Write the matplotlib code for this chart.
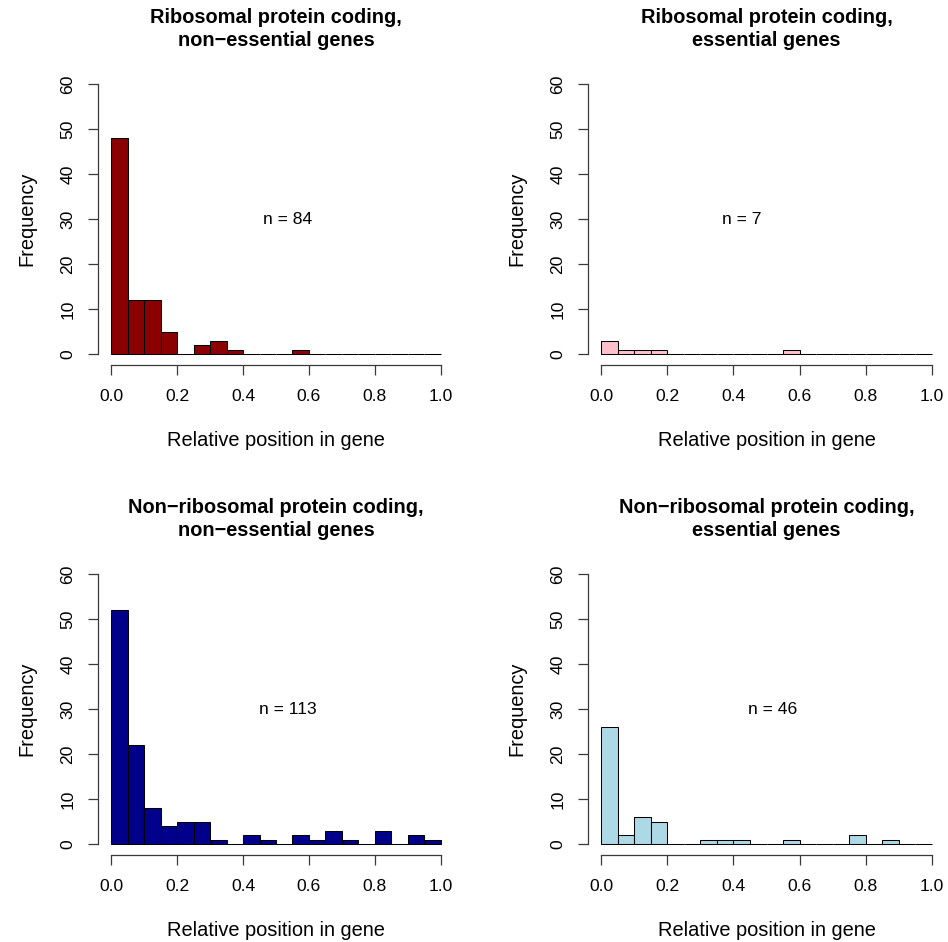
#!/usr/bin/env python
# -*- coding: utf-8 -*-

"""
Histograms of relative insertion position within genes, split by
ribosomal / non-ribosomal protein coding and essential / non-essential.
"""

import numpy as np

import matplotlib

matplotlib.use("Agg")
import matplotlib.pyplot as plt  # noqa: E402

plt.rcParams["font.family"] = ["Liberation Sans", "DejaVu Sans"]

# bin edges: 20 bins of width 0.05 over [0, 1]
BIN_EDGES = np.linspace(0.0, 1.0, 21)

# counts per bin
RIBO_NONESS = [48, 12, 12, 5, 0, 2, 3, 1, 0, 0, 0, 1, 0, 0, 0, 0, 0, 0, 0, 0]
RIBO_ESS = [3, 1, 1, 1, 0, 0, 0, 0, 0, 0, 0, 1, 0, 0, 0, 0, 0, 0, 0, 0]
NONRIBO_NONESS = [52, 22, 8, 4, 5, 5, 1, 0, 2, 1, 0, 2, 1, 3, 1, 0, 3, 0, 2, 1]
NONRIBO_ESS = [26, 2, 6, 5, 0, 0, 1, 1, 1, 0, 0, 1, 0, 0, 0, 2, 0, 1, 0, 0]

TITLES = [
    "Ribosomal protein coding,\nnon\u2212essential genes",
    "Ribosomal protein coding,\nessential genes",
    "Non\u2212ribosomal protein coding,\nnon\u2212essential genes",
    "Non\u2212ribosomal protein coding,\nessential genes",
]
COUNTS = [RIBO_NONESS, RIBO_ESS, NONRIBO_NONESS, NONRIBO_ESS]
FILLS = ["#8B0000", "#FFC0CB", "#00008B", "#ADD8E6"]
N_TEXT_X = [0.536, 0.424, 0.536, 0.518]

X_TICKS = [0.0, 0.2, 0.4, 0.6, 0.8, 1.0]
Y_TICKS = [0, 10, 20, 30, 40, 50, 60]

W, H = 948, 942
DPI = 100
AXIS_COL = "#3a3a3a"

# panel plot regions in pixels (left, top, right, bottom)
PANELS = [
    (98, 73, 454, 365),
    (588, 73, 945, 365),
    (98, 563, 454, 855),
    (588, 563, 945, 855),
]


def fx(px):
    return px / W


def fy(py):
    return 1.0 - py / H


def main():
    fig = plt.figure(figsize=(W / DPI, H / DPI), dpi=DPI)
    fig.patch.set_facecolor("white")

    widths = np.diff(BIN_EDGES)
    for i, (l, t, r, b) in enumerate(PANELS):
        ax = fig.add_axes([fx(l), fy(b), fx(r) - fx(l), fy(t) - fy(b)])
        counts = np.asarray(COUNTS[i])
        ax.bar(BIN_EDGES[:-1], counts, width=widths, align="edge",
               color=FILLS[i], edgecolor="black", linewidth=0.75)

        ax.set_xlim(-0.04, 1.04)
        ax.set_ylim(-2.4, 62.4)
        for side in ("top", "right"):
            ax.spines[side].set_visible(False)
        ax.spines["left"].set_bounds(0, 60)
        ax.spines["bottom"].set_bounds(0, 1)
        for side in ("left", "bottom"):
            ax.spines[side].set_color(AXIS_COL)
            ax.spines[side].set_linewidth(0.9)

        ax.set_xticks(X_TICKS)
        ax.set_xticklabels([f"{v:.1f}" for v in X_TICKS])
        ax.set_yticks(Y_TICKS)
        ax.set_yticklabels([str(v) for v in Y_TICKS])
        ax.tick_params(direction="out", length=7.2, width=0.9, color=AXIS_COL,
                       labelsize=12.6, labelcolor="black")
        ax.tick_params(axis="x", pad=10)
        ax.tick_params(axis="y", pad=9)
        for lab in ax.get_yticklabels():
            lab.set_rotation(90)
            lab.set_va("center")

        ax.text(N_TEXT_X[i], 30, f"n = {int(counts.sum())}", ha="center",
                va="center", fontsize=12.6)

        cx = (l + r) / 2
        line1, line2 = TITLES[i].split("\n")
        fig.text(fx(cx), fy(t - 50), line1, ha="center", va="baseline",
                 fontsize=14.4, fontweight="bold")
        fig.text(fx(cx), fy(t - 27), line2, ha="center", va="baseline",
                 fontsize=14.4, fontweight="bold")

        fig.text(fx(cx), fy(b + 75), "Relative position in gene", ha="center",
                 va="center", fontsize=14.4)
        fig.text(fx(l - 71), fy((t + b) / 2), "Frequency", ha="center",
                 va="center", rotation=90, fontsize=14.4)

    fig.savefig("out.png", dpi=DPI)
    plt.close(fig)


if __name__ == "__main__":
    main()
